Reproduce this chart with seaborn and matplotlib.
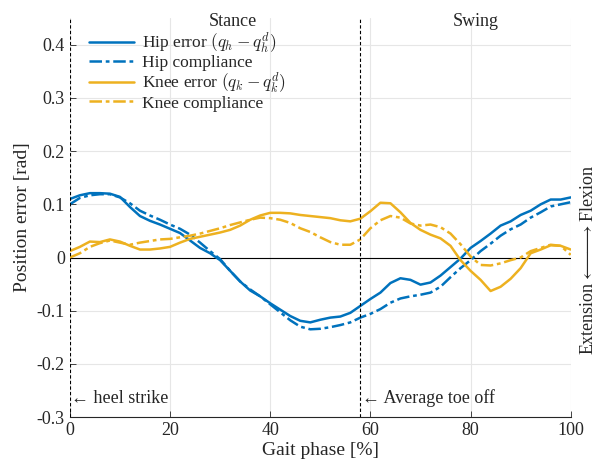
import numpy as np
import pandas as pd
import matplotlib
matplotlib.use("Agg")
import matplotlib.pyplot as plt
import seaborn as sns

phase = list(range(0, 101, 2))
hip_error = [0.110, 0.117, 0.121, 0.121, 0.120, 0.114, 0.095, 0.078, 0.069, 0.062,
             0.054, 0.046, 0.032, 0.018, 0.008, -0.005, -0.025, -0.045, -0.062, -0.073,
             -0.086, -0.098, -0.110, -0.119, -0.122, -0.117, -0.113, -0.111, -0.104, -0.091,
             -0.078, -0.066, -0.048, -0.039, -0.042, -0.051, -0.047, -0.034, -0.018, -0.002,
             0.018, 0.031, 0.045, 0.060, 0.068, 0.080, 0.088, 0.100, 0.109, 0.109, 0.113]
hip_compliance = [0.100, 0.112, 0.117, 0.119, 0.119, 0.113, 0.102, 0.088, 0.079, 0.071,
                  0.062, 0.054, 0.043, 0.028, 0.012, -0.003, -0.025, -0.045, -0.060, -0.073,
                  -0.088, -0.103, -0.118, -0.130, -0.135, -0.134, -0.131, -0.127, -0.122, -0.113,
                  -0.106, -0.097, -0.085, -0.077, -0.073, -0.070, -0.066, -0.055, -0.037, -0.020,
                  -0.005, 0.012, 0.026, 0.041, 0.053, 0.062, 0.075, 0.085, 0.096, 0.100, 0.104]
knee_error = [0.012, 0.020, 0.030, 0.029, 0.034, 0.030, 0.022, 0.015, 0.015, 0.017,
              0.020, 0.028, 0.035, 0.039, 0.043, 0.047, 0.052, 0.060, 0.071, 0.079,
              0.084, 0.084, 0.083, 0.080, 0.078, 0.076, 0.074, 0.070, 0.068, 0.073,
              0.087, 0.103, 0.102, 0.085, 0.065, 0.052, 0.043, 0.036, 0.022, -0.005,
              -0.025, -0.042, -0.063, -0.055, -0.040, -0.020, 0.008, 0.015, 0.023, 0.022, 0.015]
knee_compliance = [0.000, 0.008, 0.020, 0.027, 0.032, 0.028, 0.024, 0.028, 0.031, 0.034,
                   0.035, 0.038, 0.041, 0.045, 0.050, 0.055, 0.061, 0.066, 0.071, 0.075,
                   0.074, 0.071, 0.065, 0.055, 0.048, 0.038, 0.029, 0.024, 0.024, 0.034,
                   0.055, 0.070, 0.078, 0.075, 0.064, 0.060, 0.062, 0.057, 0.045, 0.025,
                   0.002, -0.014, -0.015, -0.011, -0.005, 0.000, 0.012, 0.018, 0.024, 0.022, 0.005]

x_ticks = [0, 20, 40, 60, 80, 100]
y_ticks = [-0.3, -0.2, -0.1, 0, 0.1, 0.2, 0.3, 0.4]
y_tick_labels = ["-0.3", "-0.2", "-0.1", "0", "0.1", "0.2", "0.3", "0.4"]
toe_off = 58

sns.set_style("white")
plt.rcParams["font.family"] = ["Liberation Serif", "DejaVu Serif"]
plt.rcParams["mathtext.fontset"] = "cm"
plt.rcParams["axes.unicode_minus"] = False

BLUE = "#0072BD"
YELLOW = "#EDB120"

fig = plt.figure(figsize=(5.97, 4.66), dpi=100)
ax = fig.add_axes([0.117, 0.105, 0.839, 0.856])

series = [
    (hip_error, BLUE, "-", r"Hip error $(q_h - q_h^d)$"),
    (hip_compliance, BLUE, (0, (5, 1.5, 1.5, 1.5)), "Hip compliance"),
    (knee_error, YELLOW, "-", r"Knee error $(q_k - q_k^d)$"),
    (knee_compliance, YELLOW, (0, (5, 1.5, 1.5, 1.5)), "Knee compliance"),
]
for vals, col, ls, lab in series:
    df = pd.DataFrame({"phase": phase, "val": vals})
    sns.lineplot(data=df, x="phase", y="val", ax=ax, color=col, linestyle=ls,
                 linewidth=1.8, label=lab)

ax.axhline(0, color="black", linewidth=0.8, zorder=1)
ax.axvline(0, color="black", linestyle=(0, (3, 2)), linewidth=0.8)
ax.axvline(toe_off, color="black", linestyle=(0, (3, 2)), linewidth=0.8)

ax.set_xlim(0, 100)
ax.set_ylim(-0.3, 0.45)
ax.set_xticks(x_ticks)
ax.set_yticks(y_ticks)
ax.set_yticklabels(y_tick_labels)
ax.grid(True, color="#e6e6e6", linewidth=0.8)
ax.set_axisbelow(True)
for s in ["top", "right", "left"]:
    ax.spines[s].set_visible(False)
ax.spines["bottom"].set_color("#262626")
ax.spines["bottom"].set_linewidth(0.8)
ax.tick_params(axis="both", direction="in", length=4, width=0.6, labelsize=13,
               colors="#262626", left=True, bottom=True)

ax.set_xlabel("Gait phase [%]", fontsize=14, labelpad=2)
ax.set_ylabel("Position error [rad]", fontsize=14, labelpad=4)

ax.text(32.5, 0.444, "Stance", fontsize=13, ha="center", va="center")
ax.text(81, 0.444, "Swing", fontsize=13, ha="center", va="center")
ax.text(0.3, -0.265, "\u2190 heel strike", fontsize=13, ha="left", va="center")
ax.text(toe_off + 0.3, -0.265, "\u2190 Average toe off", fontsize=13, ha="left", va="center")
fig.text(0.986, 0.442, r"Extension$\longleftarrow\!\!\!\longrightarrow$Flexion",
         rotation=90, fontsize=13, ha="center", va="center")

leg = ax.legend(loc="upper left", bbox_to_anchor=(0.025, 0.988), frameon=False,
                fontsize=12.5, handlelength=2.6, handletextpad=0.45,
                labelspacing=0.0, borderaxespad=0.0)

fig.savefig("out.png", dpi=100)
